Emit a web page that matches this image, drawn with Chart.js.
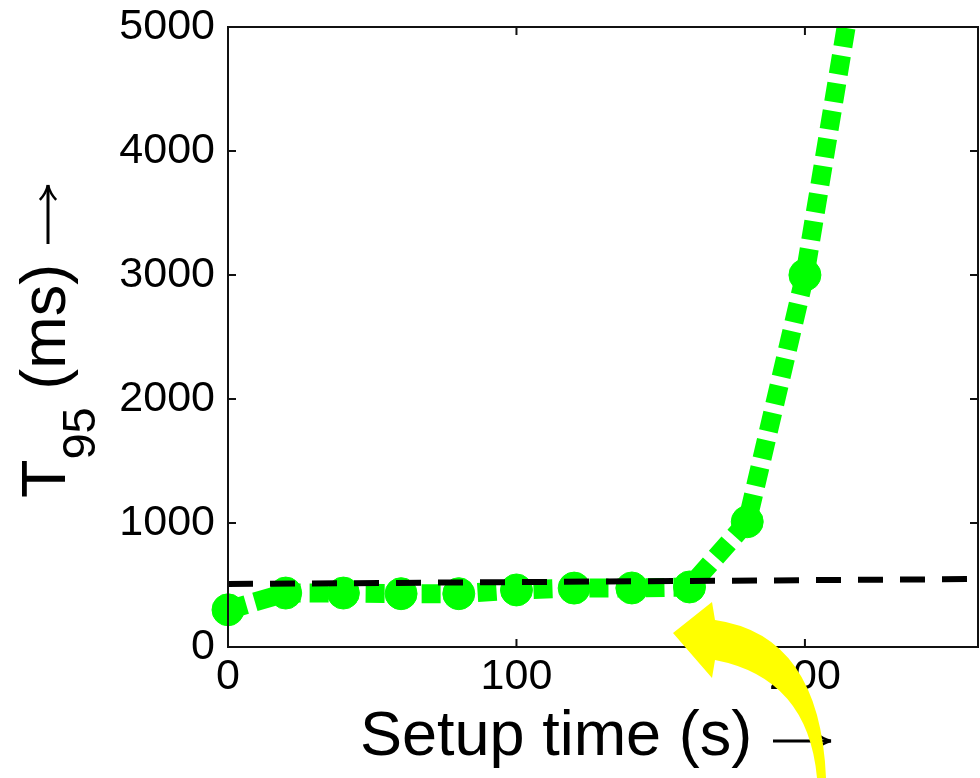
<!DOCTYPE html>
<html lang="en">
<head>
<meta charset="UTF-8">
<title>T95 vs setup time</title>
<script src="https://cdn.jsdelivr.net/npm/chart.js@4.4.1/dist/chart.umd.min.js"></script>
<style>
    body { margin: 0; background: #fff; }
    .wrap { position: relative; width: 980px; height: 778px; }
</style>
</head>
<body>
<div class="wrap"><canvas id="chart"></canvas></div>
<script>
// measured points (setup time in s, T95 in ms)
const setupTime = [0, 20, 40, 60, 80, 100, 120, 140, 160, 180, 200, 220];
const t95 = [300, 435, 435, 430, 430, 460, 475, 476, 484, 1010, 3000, 5800];

// dashed reference line
const refTime = [0, 260];
const refT95 = [508, 548];

const xTicks = [0, 100, 200];
const yTicks = [0, 1000, 2000, 3000, 4000, 5000];

const FONT = "'Liberation Sans', Arial, sans-serif";

// thin long arrow like the old Symbol-font one
function drawArrow(ctx, x0, y0, x1, y1) {
    const ang = Math.atan2(y1 - y0, x1 - x0);
    ctx.save();
    ctx.strokeStyle = '#000';
    ctx.lineWidth = 3;
    ctx.lineCap = 'butt';
    ctx.beginPath();
    ctx.moveTo(x0, y0);
    ctx.lineTo(x1, y1);
    ctx.stroke();
    ctx.lineWidth = 2.5;
    ctx.beginPath();
    for (const s of [-1, 1]) {
        const a = ang + Math.PI - s * 0.5;
        ctx.moveTo(x1, y1);
        ctx.quadraticCurveTo(
            x1 + 9 * Math.cos(ang + Math.PI - s * 0.25), y1 + 9 * Math.sin(ang + Math.PI - s * 0.25),
            x1 + 17 * Math.cos(a), y1 + 17 * Math.sin(a));
    }
    ctx.stroke();
    ctx.restore();
}

// box + inward ticks on all four sides
const framePlugin = {
    id: 'frame',
    afterDatasetsDraw(chart) {
        const { ctx, chartArea: a, scales } = chart;
        ctx.save();
        ctx.strokeStyle = '#111';
        ctx.lineWidth = 2;
        ctx.strokeRect(a.left, a.top, a.right - a.left, a.bottom - a.top);
        const len = 8;
        ctx.beginPath();
        scales.x.ticks.forEach(t => {
            const px = scales.x.getPixelForValue(t.value);
            ctx.moveTo(px, a.bottom); ctx.lineTo(px, a.bottom - len);
            ctx.moveTo(px, a.top); ctx.lineTo(px, a.top + len);
        });
        scales.y.ticks.forEach(t => {
            const py = scales.y.getPixelForValue(t.value);
            ctx.moveTo(a.left, py); ctx.lineTo(a.left + len, py);
            ctx.moveTo(a.right, py); ctx.lineTo(a.right - len, py);
        });
        ctx.stroke();
        ctx.restore();
    },
    afterDraw(chart) {
        const { ctx } = chart;
        ctx.save();
        ctx.fillStyle = '#000';
        ctx.textBaseline = 'alphabetic';
        ctx.textAlign = 'left';

        // x title
        ctx.font = `63px ${FONT}`;
        ctx.fillText('Setup time (s)', 360, 755);
        drawArrow(ctx, 773, 741, 831, 741);

        // y title with subscript
        ctx.save();
        ctx.translate(65, 498);
        ctx.rotate(-Math.PI / 2);
        ctx.font = `63px ${FONT}`;
        ctx.fillText('T', 0, 0);
        let x = ctx.measureText('T').width;
        ctx.font = `47px ${FONT}`;
        ctx.fillText('95', x, 30);
        x += ctx.measureText('95').width;
        ctx.font = `63px ${FONT}`;
        ctx.fillText(' (ms)', x, 0);
        ctx.restore();
        drawArrow(ctx, 48, 244, 48, 185);
        ctx.restore();

        // yellow annotation arrow
        ctx.save();
        ctx.fillStyle = '#ffff00';
        ctx.beginPath();
        ctx.moveTo(673, 633);
        ctx.lineTo(712, 602);
        ctx.lineTo(715, 620);
        ctx.quadraticCurveTo(820, 635, 826, 778);
        ctx.lineTo(817, 778);
        ctx.quadraticCurveTo(808, 678, 715, 660);
        ctx.lineTo(712, 678);
        ctx.closePath();
        ctx.fill();
        ctx.restore();
    }
};

new Chart(document.getElementById('chart'), {
    type: 'line',
    data: {
        datasets: [
            {
                data: refTime.map((x, i) => ({ x, y: refT95[i] })),
                borderColor: '#000',
                borderWidth: 6,
                borderDash: [25, 17],
                borderCapStyle: 'butt',
                pointRadius: 0,
                order: 0
            },
            {
                data: setupTime.map((x, i) => ({ x, y: t95[i] })),
                borderColor: '#00ff00',
                backgroundColor: '#00ff00',
                borderWidth: 19,
                borderDash: [19, 9],
                borderCapStyle: 'butt',
                pointRadius: 16,
                pointBorderWidth: 1,
                pointBorderColor: '#00ff00',
                pointBackgroundColor: '#00ff00',
                tension: 0,
                order: 1,
                clip: { left: 25, top: 0, right: 0, bottom: 25 }
            }
        ]
    },
    options: {
        responsive: true,
        maintainAspectRatio: false,
        animation: false,
        layout: { autoPadding: false, padding: { top: 27, right: 2, left: 0, bottom: 0 } },
        plugins: { legend: { display: false }, tooltip: { enabled: false } },
        scales: {
            x: {
                type: 'linear',
                min: 0,
                max: 260,
                afterBuildTicks: s => { s.ticks = xTicks.map(v => ({ value: v })); },
                afterFit: s => { s.height = 131; s.paddingLeft = 0; s.paddingRight = 0; },
                grid: { display: false, drawTicks: false },
                border: { display: false },
                ticks: {
                    font: { family: FONT, size: 43 }, color: '#000', padding: 4,
                    maxRotation: 0, autoSkip: false, callback: v => String(v)
                }
            },
            y: {
                min: 0,
                max: 5000,
                afterBuildTicks: s => { s.ticks = yTicks.map(v => ({ value: v })); },
                afterFit: s => { s.width = 228; s.paddingTop = 0; s.paddingBottom = 0; },
                grid: { display: false, drawTicks: false },
                border: { display: false },
                ticks: {
                    font: { family: FONT, size: 43 }, color: '#000', padding: 13,
                    autoSkip: false, callback: v => String(v)
                }
            }
        }
    },
    plugins: [framePlugin]
});
</script>
</body>
</html>
